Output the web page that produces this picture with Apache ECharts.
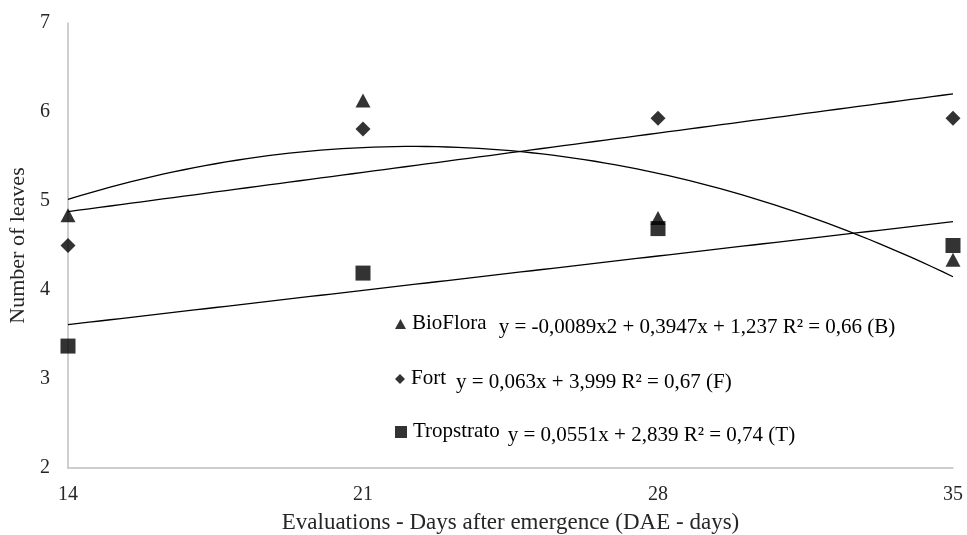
<!DOCTYPE html>
<html>
<head>
<meta charset="utf-8">
<script src="https://cdn.jsdelivr.net/npm/echarts@6/dist/echarts.min.js"></script>
<style>
  html, body { margin: 0; padding: 0; background: #fff; }
  #chart { width: 967px; height: 535px; }
</style>
</head>
<body>
<div id="chart"></div>
<script>
// evaluation days (DAE)
const days = [14, 21, 28, 35];
const xTicks = [14, 21, 28, 35];
const yTicks = [2, 3, 4, 5, 6, 7];

// number of leaves
const bioFlora = [4.84, 6.13, 4.81, 4.34];
const fort = [4.50, 5.81, 5.93, 5.93];
const tropstrato = [3.37, 4.19, 4.69, 4.50];

// trendline coefficients as printed in the legend [a2, a1, a0]
const bioFloraFit = [-0.0089, 0.3947, 1.237];
const fortFit = [0, 0.063, 3.999];
const tropstratoFit = [0, 0.0551, 2.839];

const seriesNames = ['BioFlora', 'Fort', 'Tropstrato'];
const equations = [
  'y = -0,0089x2 + 0,3947x + 1,237 R² = 0,66 (B)',
  'y = 0,063x + 3,999 R² = 0,67 (F)',
  'y = 0,0551x + 2,839 R² = 0,74 (T)'
];

function trend(c) {
  let pts = [];
  for (let x = days[0]; x <= days[days.length - 1] + 1e-9; x += 0.25) {
    pts.push([x, c[0] * x * x + c[1] * x + c[2]]);
  }
  return pts;
}
function pairs(v) {
  return days.map((d, i) => [d, v[i]]);
}

const font = 'Liberation Serif, Times New Roman, serif';
const icons = ['triangle', 'diamond', 'rect'];
const iconSize = [[11, 10], [10, 10], [12, 12]];
const rowTop = [306, 361, 414];
const eqGap = [12, 10, 8];

let myChart = echarts.init(document.getElementById('chart'));

// one legend per row so each line sits where it does in the figure
let legends = seriesNames.map((name, i) => ({
  orient: 'vertical',
  left: 390,
  top: rowTop[i],
  itemWidth: iconSize[i][0],
  itemHeight: iconSize[i][1],
  itemGap: 0,
  selectedMode: false,
  data: [{ name: name, icon: icons[i], itemStyle: { color: '#000' } }],
  formatter: function (n) {
    return '{n|' + n + '}{e|' + equations[i] + '}';
  },
  textStyle: {
    padding: [0, 0, 0, 1],
    rich: {
      n: { fontFamily: font, fontSize: 21, color: '#000', lineHeight: 26, padding: [2, 0, 2, 0], verticalAlign: 'top' },
      e: { fontFamily: font, fontSize: 21, color: '#000', lineHeight: 26, padding: [6, 0, 0, eqGap[i]], verticalAlign: 'top' }
    }
  }
}));

const lineStyle = { color: '#000', width: 1.3 };

myChart.setOption({
  animation: false,
  textStyle: { fontFamily: font },
  grid: { left: 68, right: 14, top: 23, bottom: 67, containLabel: false, outerBoundsMode: 'none' },
  legend: legends,
  xAxis: {
    type: 'value',
    min: xTicks[0],
    max: xTicks[xTicks.length - 1],
    interval: 7,
    name: 'Evaluations - Days after emergence (DAE - days)',
    nameLocation: 'middle',
    nameGap: 43,
    nameTextStyle: { fontFamily: font, fontSize: 23, color: '#262626' },
    axisLine: { lineStyle: { color: '#bfbfbf', width: 1.5 } },
    axisTick: { show: false },
    splitLine: { show: false },
    axisLabel: { margin: 17, fontFamily: font, fontSize: 20, color: '#262626' }
  },
  yAxis: {
    type: 'value',
    min: yTicks[0],
    max: yTicks[yTicks.length - 1],
    interval: 1,
    name: 'Number of leaves',
    nameLocation: 'middle',
    nameRotate: 90,
    nameGap: 39,
    nameTextStyle: { fontFamily: font, fontSize: 22, color: '#262626' },
    axisLine: { show: true, lineStyle: { color: '#bfbfbf', width: 1.5 } },
    axisTick: { show: false },
    splitLine: { show: false },
    axisLabel: { margin: 18, fontFamily: font, fontSize: 20, color: '#262626' }
  },
  series: [
    { name: 'BioFlora trend', type: 'line', data: trend(bioFloraFit), showSymbol: false, lineStyle: lineStyle, z: 1 },
    { name: 'Fort trend', type: 'line', data: trend(fortFit), showSymbol: false, lineStyle: lineStyle, z: 1 },
    { name: 'Tropstrato trend', type: 'line', data: trend(tropstratoFit), showSymbol: false, lineStyle: lineStyle, z: 1 },
    { name: 'BioFlora', type: 'scatter', symbol: 'triangle', symbolSize: [15, 14], data: pairs(bioFlora), itemStyle: { color: '#000' }, z: 3 },
    { name: 'Fort', type: 'scatter', symbol: 'diamond', symbolSize: [15, 15], data: pairs(fort), itemStyle: { color: '#000' }, z: 3 },
    { name: 'Tropstrato', type: 'scatter', symbol: 'rect', symbolSize: 15, data: pairs(tropstrato), itemStyle: { color: '#000' }, z: 3 }
  ]
});

window.onresize = function () {
  myChart.resize();
};
</script>
</body>
</html>
